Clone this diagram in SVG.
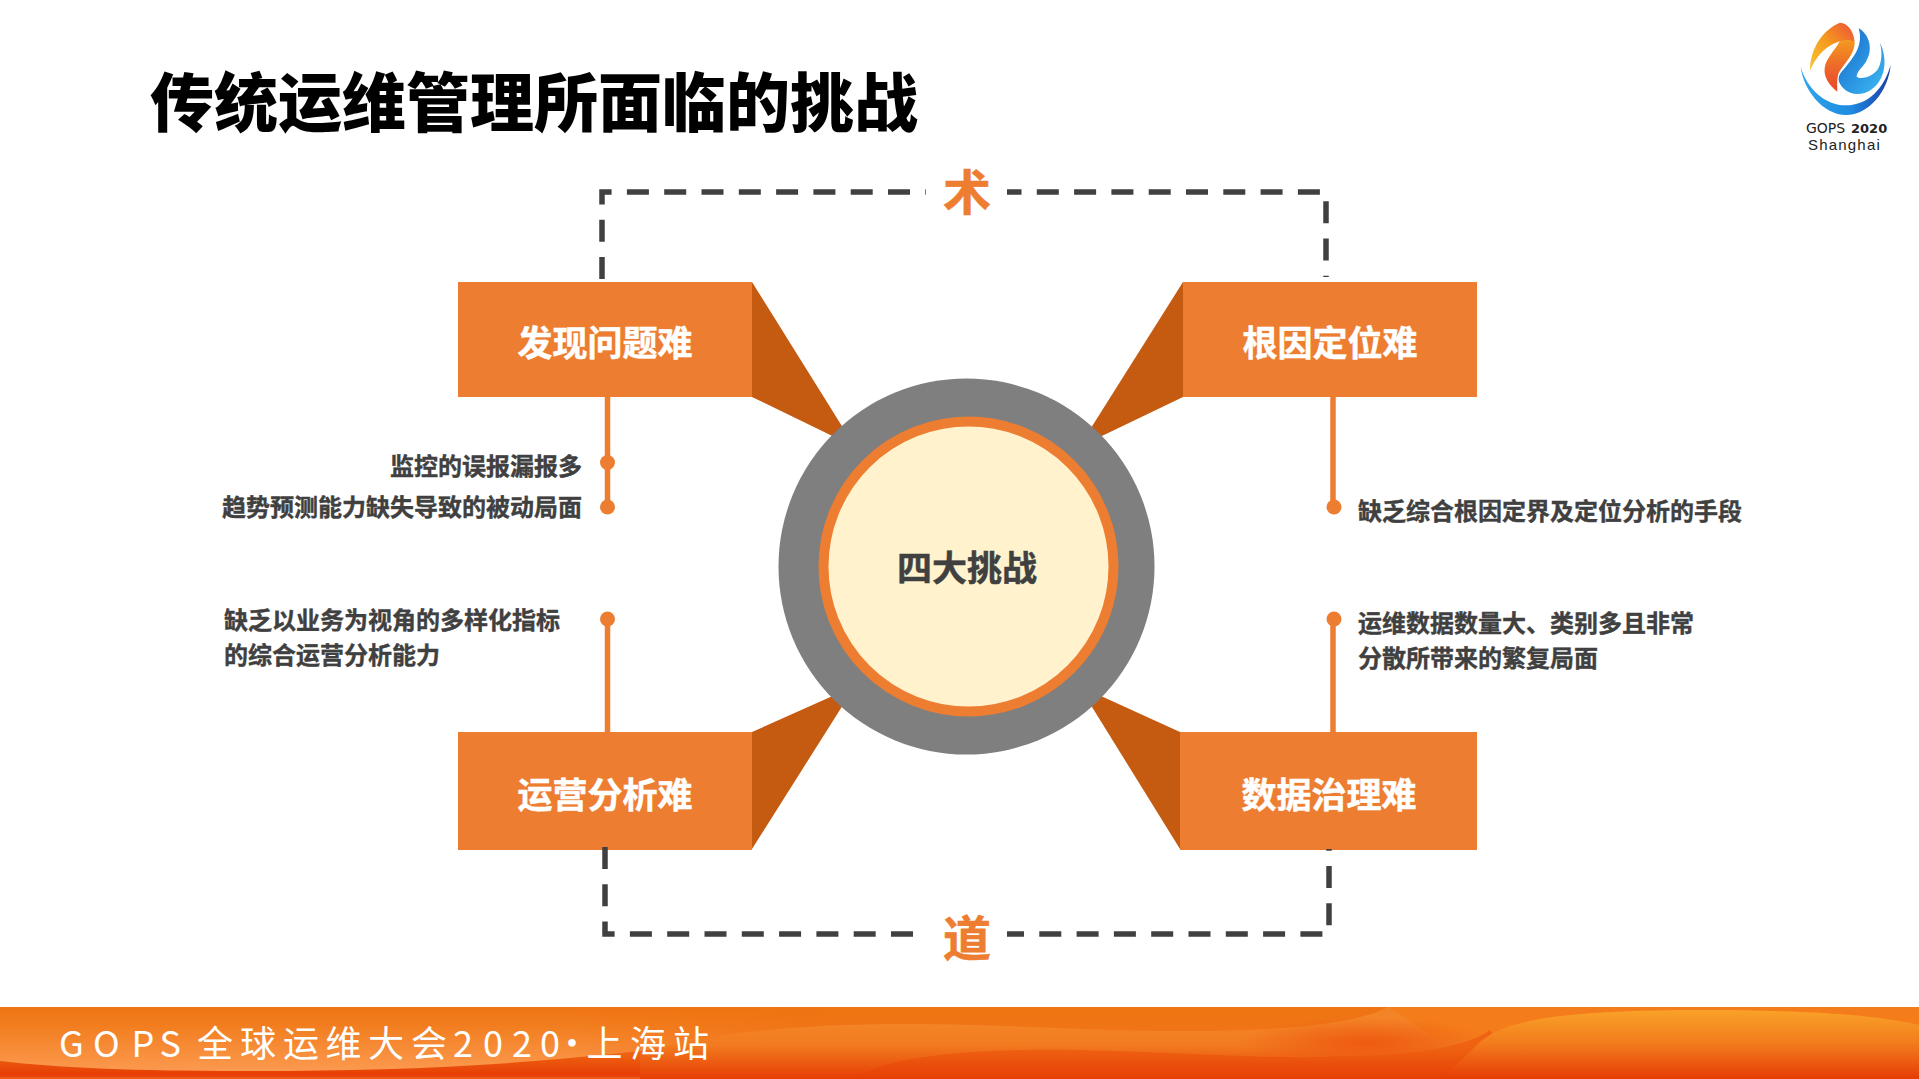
<svg xmlns="http://www.w3.org/2000/svg" width="1919" height="1079" viewBox="0 0 1919 1079">
<defs>
<style>
text{font-family:"Noto Sans CJK SC","Noto Sans",sans-serif}
.box{fill:#ED7D31}
.wing{fill:#C55A11}
.lbl{font-size:35px;font-weight:700;fill:#fff;stroke:#fff;stroke-width:.5;text-anchor:middle}
.side{font-size:24px;font-weight:700;fill:#404040;stroke:#404040;stroke-width:.4}
.end{text-anchor:end}
.dash{fill:none;stroke:#404040;stroke-width:5.5;stroke-dasharray:22 15.3}
.stem{stroke:#ED7D31;stroke-width:5.5;fill:none}
.dot{fill:#ED7D31}
.dao{font-size:48px;font-weight:700;fill:#ED7D31;stroke:#ED7D31;stroke-width:.6;text-anchor:middle}
</style>
<linearGradient id="bar" gradientUnits="userSpaceOnUse" x1="0" y1="1007" x2="0" y2="1079"><stop offset="0" stop-color="#EE7412"/><stop offset=".5" stop-color="#F27518"/><stop offset=".95" stop-color="#E63D05"/><stop offset="1" stop-color="#F0641C"/></linearGradient>
<linearGradient id="w1" gradientUnits="userSpaceOnUse" x1="0" y1="1007" x2="0" y2="1072"><stop offset="0" stop-color="#EE7412"/><stop offset=".3" stop-color="#F27E20"/><stop offset="1" stop-color="#FC9A50"/></linearGradient>
<linearGradient id="wm" gradientUnits="userSpaceOnUse" x1="0" y1="0" x2="820" y2="0"><stop offset=".7" stop-color="#fff"/><stop offset="1" stop-color="#000"/></linearGradient>
<mask id="fade" maskUnits="userSpaceOnUse" x="0" y="1000" width="900" height="79"><rect x="0" y="1000" width="900" height="79" fill="url(#wm)"/></mask>
<linearGradient id="w4" gradientUnits="userSpaceOnUse" x1="0" y1="1024" x2="0" y2="1079"><stop offset="0" stop-color="#F48527"/><stop offset=".4" stop-color="#F27A1F"/><stop offset="1" stop-color="#E63D05"/></linearGradient>
<linearGradient id="w5" gradientUnits="userSpaceOnUse" x1="0" y1="1048" x2="0" y2="1079"><stop offset="0" stop-color="#EE6212"/><stop offset="1" stop-color="#E63E06"/></linearGradient>
<linearGradient id="w2" gradientUnits="userSpaceOnUse" x1="0" y1="1010" x2="0" y2="1079"><stop offset="0" stop-color="#F9A228"/><stop offset=".5" stop-color="#F27A1C"/><stop offset="1" stop-color="#E63C05"/></linearGradient>
<radialGradient id="w3" cx=".5" cy=".5" r=".5"><stop offset="0" stop-color="#EE5A12"/><stop offset="1" stop-color="#EE5A12" stop-opacity="0"/></radialGradient>
<linearGradient id="lb" x1="0" y1="0" x2="1" y2="0"><stop offset="0" stop-color="#2EA7EC"/><stop offset=".55" stop-color="#1F8BE0"/><stop offset="1" stop-color="#1B3FA8"/></linearGradient>
<linearGradient id="lo" x1="0" y1="1" x2="1" y2="0"><stop offset="0" stop-color="#F9C533"/><stop offset=".5" stop-color="#F49A1E"/><stop offset="1" stop-color="#EE4F3A"/></linearGradient>
<linearGradient id="lr" x1="0" y1="0" x2="0" y2="1"><stop offset="0" stop-color="#F49A1E"/><stop offset=".5" stop-color="#EE6A2A"/><stop offset="1" stop-color="#E8452A"/></linearGradient>
<linearGradient id="lc" x1="0" y1="0" x2="1" y2="1"><stop offset="0" stop-color="#1565C8"/><stop offset="1" stop-color="#3DBBF5"/></linearGradient>
<clipPath id="lowedge"><path d="M0 1007H900V1030C820 1030 770 1034 740 1039C680 1047 600 1056 534 1061C440 1069 340 1071 240 1071C140 1071 60 1068 0 1061Z"/></clipPath>
</defs>
<rect width="1919" height="1079" fill="#fff"/>
<text x="150" y="126" font-size="64" fill="#000" style="font-weight:900">传统运维管理所面临的挑战</text>
<g id="logo">
<g transform="translate(1760 0) scale(.3333)">
<path d="M122 200C130 270 190 345 258 345C325 345 385 275 392 195C372 265 325 316 258 316C195 316 140 265 122 200Z" fill="url(#lb)"/>
<path d="M150 212C150 150 185 90 240 68C262 70 280 90 284 125C255 118 225 122 195 148C172 168 160 190 150 212Z" fill="url(#lo)"/>
<path d="M284 125C285 165 250 190 235 222C230 240 232 262 232 275C200 250 180 215 205 175C220 150 235 135 238 125C255 118 272 118 284 125Z" fill="url(#lr)"/>
<path d="M296 85C330 105 340 150 318 185C305 205 290 215 290 230C300 238 330 235 352 210C365 190 368 160 360 128C385 180 375 240 335 268C305 290 270 285 250 265C235 248 232 235 240 222C265 190 315 145 296 85Z" fill="url(#lc)"/>
</g>
<text y="133" font-size="14" style="font-family:'DejaVu Sans',sans-serif" fill="#222"><tspan x="1806">GOPS</tspan><tspan x="1851" font-size="13" font-weight="700">2020</tspan></text>
<text x="1808" y="150" font-size="15" letter-spacing="1.200" style="font-family:'Liberation Sans',sans-serif" fill="#222">Shanghai</text>
</g>

<g id="wings">
<polygon class="wing" points="752,282 855,447 752,397"/>
<polygon class="wing" points="1183,282 1079,447 1183,397"/>
<polygon class="wing" points="752,849 855,686 752,732"/>
<polygon class="wing" points="1180,849 1079,686 1180,732"/>
</g>

<g id="center">
<circle cx="966.500" cy="566.500" r="188" fill="#7F7F7F"/>
<circle cx="968.500" cy="566.500" r="145" fill="#FFF2CC" stroke="#ED7D31" stroke-width="10"/>
<text x="967" y="581" class="lbl" style="fill:#404040;stroke:#404040">四大挑战</text>
</g>

<g id="n1"><rect class="box" x="458" y="282" width="294" height="115"/><text class="lbl" x="605" y="356">发现问题难</text></g>
<g id="n2"><rect class="box" x="1183" y="282" width="294" height="115"/><text class="lbl" x="1330" y="356">根因定位难</text></g>
<g id="n3"><rect class="box" x="458" y="732" width="294" height="118"/><text class="lbl" x="605" y="808">运营分析难</text></g>
<g id="n4"><rect class="box" x="1180" y="732" width="297" height="118"/><text class="lbl" x="1329" y="808">数据治理难</text></g>

<g id="connectors">
<path class="dash" d="M602 279V192H926"/>
<path class="dash" d="M1007 192H1326V277" stroke-dashoffset="7.500"/>
<path class="dash" d="M605 847V934H913"/>
<path class="dash" d="M1007 934H1329V849" stroke-dashoffset="5"/>
<path class="stem" d="M607.500 397V507"/>
<circle class="dot" cx="607.500" cy="462.500" r="7.500"/>
<circle class="dot" cx="607.500" cy="507" r="7.500"/>
<path class="stem" d="M1333 397V507"/>
<circle class="dot" cx="1334" cy="507" r="7.500"/>
<path class="stem" d="M607.500 732V619"/>
<circle class="dot" cx="607.500" cy="619" r="7.500"/>
<path class="stem" d="M1333 732V619"/>
<circle class="dot" cx="1334" cy="619" r="7.500"/>
</g>

<g id="t1"><text class="side end" x="582" y="475">监控的误报漏报多</text><text class="side end" x="582" y="516">趋势预测能力缺失导致的被动局面</text></g>
<g id="t2"><text class="side" x="1358" y="520">缺乏综合根因定界及定位分析的手段</text></g>
<g id="t3"><text class="side" x="224" y="629">缺乏以业务为视角的多样化指标</text><text class="side" x="224" y="664">的综合运营分析能力</text></g>
<g id="t4"><text class="side" x="1358" y="632">运维数据数量大、类别多且非常</text><text class="side" x="1358" y="667">分散所带来的繁复局面</text></g>

<g id="shu"><text class="dao" x="967" y="210">术</text></g>
<g id="dao"><text class="dao" x="967" y="956">道</text></g>

<g id="footer">
<rect y="1007" width="1919" height="72" fill="url(#bar)"/>
<path d="M0 1007H900V1079H0Z" fill="url(#w1)" mask="url(#fade)" clip-path="url(#lowedge)"/>
<path d="M640 1052C720 1032 800 1024 908 1024C1000 1024 1100 1032 1200 1031C1300 1030 1360 1022 1388 1007H1919V1079H640Z" fill="url(#w4)" opacity=".95"/>
<path d="M1388 1007H1919V1040H1440Z" fill="#F47C1A"/>
<ellipse cx="1365" cy="1043" rx="125" ry="26" fill="url(#w3)"/>
<path d="M856 1079C880 1056 980 1048 1080 1050C1200 1053 1280 1060 1340 1056C1420 1056 1470 1045 1490 1030L1519 1079Z" fill="url(#w5)"/>
<path d="M1440 1079C1460 1062 1470 1052 1477 1045C1500 1020 1560 1010 1706 1010C1800 1010 1880 1015 1919 1025V1079Z" fill="url(#w2)"/>
<text y="1057" font-size="36" fill="#fff" x="59 93 131.500 159.500 190 197 240 283 325.500 368 411 453 483 512 540 554 586.500 630 673">GOPS 全球运维大会2020·上海站</text>
</g>
</svg>
